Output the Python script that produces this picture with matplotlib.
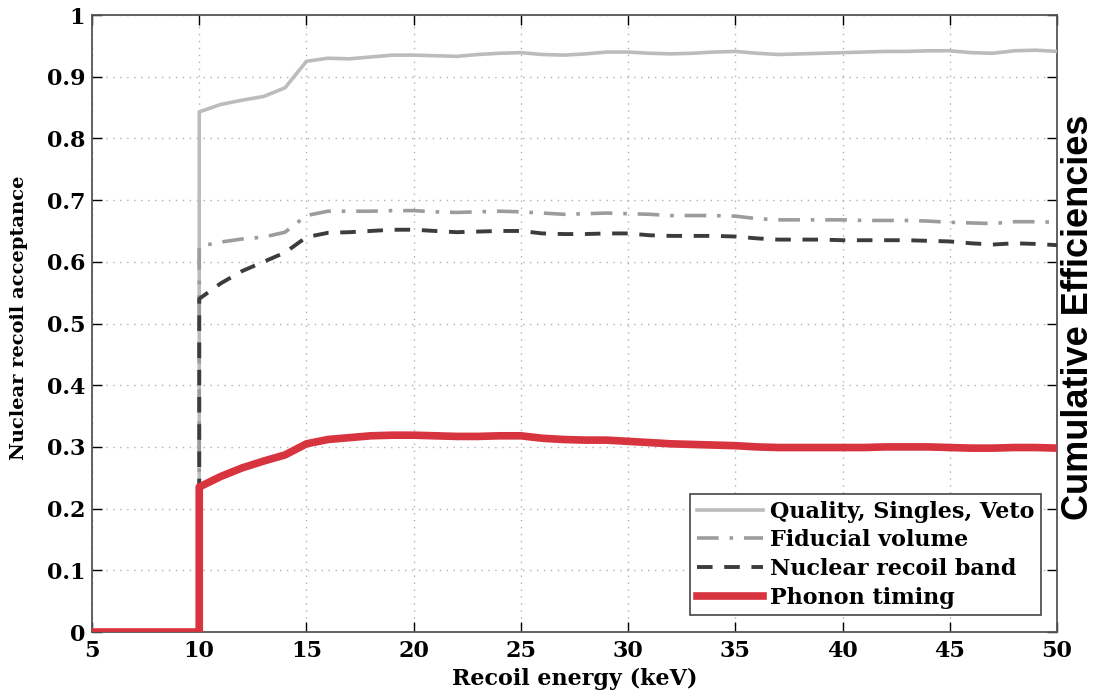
import matplotlib
matplotlib.use("Agg")
import matplotlib.pyplot as plt

# recoil energy grid (keV); all cuts are zero below the 10 keV threshold
energy = list(range(10, 51))

quality = [0.843, 0.855, 0.862, 0.868, 0.882, 0.925, 0.930, 0.929, 0.932, 0.935,
           0.935, 0.934, 0.933, 0.936, 0.938, 0.939, 0.936, 0.935, 0.937, 0.940,
           0.940, 0.938, 0.937, 0.938, 0.940, 0.941, 0.938, 0.936, 0.937, 0.938,
           0.939, 0.940, 0.941, 0.941, 0.942, 0.942, 0.939, 0.938, 0.942, 0.943,
           0.941]
fiducial = [0.625, 0.632, 0.637, 0.640, 0.648, 0.675, 0.682, 0.682, 0.682, 0.683,
            0.683, 0.681, 0.680, 0.681, 0.682, 0.681, 0.679, 0.677, 0.678, 0.679,
            0.678, 0.677, 0.675, 0.675, 0.675, 0.674, 0.670, 0.668, 0.668, 0.668,
            0.668, 0.667, 0.667, 0.667, 0.666, 0.664, 0.663, 0.662, 0.665, 0.665,
            0.664]
nr_band = [0.540, 0.565, 0.585, 0.600, 0.615, 0.640, 0.647, 0.648, 0.650, 0.652,
           0.652, 0.650, 0.648, 0.649, 0.650, 0.650, 0.646, 0.645, 0.645, 0.646,
           0.646, 0.643, 0.642, 0.642, 0.642, 0.641, 0.638, 0.636, 0.636, 0.636,
           0.635, 0.635, 0.635, 0.635, 0.634, 0.633, 0.630, 0.628, 0.630, 0.629,
           0.627]
phonon = [0.235, 0.252, 0.266, 0.277, 0.287, 0.305, 0.312, 0.315, 0.318, 0.319,
          0.319, 0.318, 0.317, 0.317, 0.318, 0.318, 0.314, 0.312, 0.311, 0.311,
          0.309, 0.307, 0.305, 0.304, 0.303, 0.302, 0.300, 0.299, 0.299, 0.299,
          0.299, 0.299, 0.300, 0.300, 0.300, 0.299, 0.298, 0.298, 0.299, 0.299,
          0.298]

labels = ["Quality, Singles, Veto", "Fiducial volume",
          "Nuclear recoil band", "Phonon timing"]

SERIF = ["DejaVu Serif"]

fig = plt.figure(figsize=(10.98, 6.92), dpi=100)
ax = fig.add_axes((0.0838, 0.0867, 0.8789, 0.8916))


def with_threshold(vals):
    return [5, energy[0]] + energy, [0, 0] + vals


x, y = with_threshold(quality)
ax.plot(x, y, color="#bcbcbc", lw=2.6, ls="-", label=labels[0], zorder=3)
x, y = with_threshold(fiducial)
ax.plot(x, y, color="#9c9c9c", lw=2.6, ls=(0, (6, 3, 1, 3)), label=labels[1], zorder=3)
x, y = with_threshold(nr_band)
ax.plot(x, y, color="#3c3c3c", lw=2.8, ls=(0, (4, 3)), label=labels[2], zorder=4)
x, y = with_threshold(phonon)
ax.plot(x, y, color="#d7343f", lw=5.5, ls="-", label=labels[3], zorder=5,
        solid_joinstyle="round")

ax.set_xlim(5, 50)
ax.set_ylim(0, 1)
ax.set_xticks(range(5, 51, 5))
ax.set_yticks([i / 10 for i in range(11)])
ax.set_yticklabels(["0"] + [f"{i / 10:.1f}" for i in range(1, 10)] + ["1"])
ax.grid(True, ls=(0, (1, 4)), color="#b0b0b0", lw=1.0)
ax.tick_params(direction="in", top=True, right=True, length=7, width=1.0,
               labelsize=16, pad=5)
ax.tick_params(axis="x", pad=6)
for lab in ax.get_xticklabels() + ax.get_yticklabels():
    lab.set_family(SERIF)
    lab.set_fontweight("bold")
for sp in ax.spines.values():
    sp.set_color("#555555")
    sp.set_linewidth(1.3)

ax.set_xlabel("Recoil energy (keV)", family=SERIF, fontweight="bold",
              fontsize=16)
ax.xaxis.set_label_coords(0.5, -0.059)
ax.set_ylabel("Nuclear recoil acceptance", family=SERIF, fontweight="bold",
              fontsize=14)
ax.yaxis.set_label_coords(-0.066, 0.51)

leg = ax.legend(loc="lower right", bbox_to_anchor=(0.9995, 0.002),
                prop={"family": SERIF, "weight": "bold", "size": 16},
                fancybox=False, framealpha=1, edgecolor="#444444",
                handlelength=3.0, handletextpad=0.3, borderpad=0.3,
                labelspacing=0.3, borderaxespad=0.7)
leg.get_frame().set_linewidth(1.2)

fig.text(0.982, 0.542, "Cumulative Efficiencies", rotation=90,
         ha="center", va="center", fontsize=26, fontweight="bold",
         family=["Liberation Sans", "DejaVu Sans"])

fig.savefig("out.png", dpi=100)
